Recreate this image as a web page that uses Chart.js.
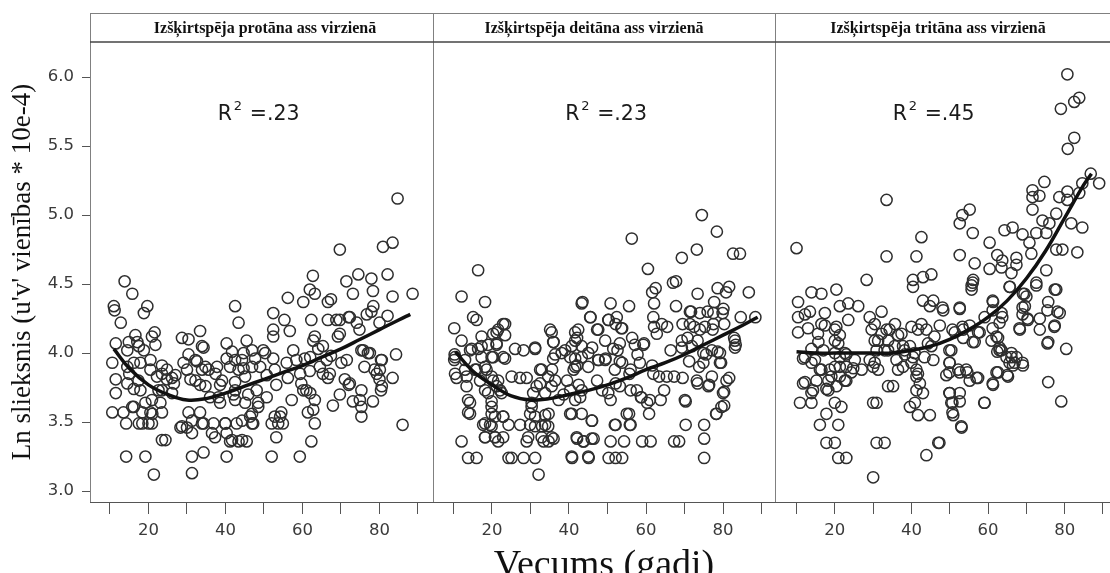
<!DOCTYPE html>
<html><head><meta charset="utf-8">
<script src="https://cdn.jsdelivr.net/npm/chart.js@4.4.1/dist/chart.umd.min.js"></script>
<style>
html,body{margin:0;padding:0;background:#fff;width:1110px;height:573px;overflow:hidden;}
canvas{position:absolute;top:13px;}
</style></head><body>
<canvas id="c1" width="433" height="560" style="left:0px"></canvas>
<canvas id="c2" width="342" height="560" style="left:433px"></canvas>
<canvas id="c3" width="335" height="560" style="left:775px"></canvas>
<script>
const panelTitles = ['Izšķirtspēja protāna ass virzienā','Izšķirtspēja deitāna ass virzienā','Izšķirtspēja tritāna ass virzienā'];
const r2Labels = ['.23','.23','.45'];
const yAxisTitle = "Ln slieksnis (u'v' vienības * 10e-4)";
const xAxisTitle = 'Vecums (gadi)';
const xTickValues = [10,20,30,40,50,60,70,80,90];
const xTickLabels = {20:'20',40:'40',60:'60',80:'80'};
const yTickValues = [3.0,3.5,4.0,4.5,5.0,5.5,6.0];

const protanPoints = [
[11.0,4.34],[11.2,4.31],[13.8,4.52],[15.8,4.43],[12.8,4.22],[11.5,4.07],[10.6,3.93],[11.5,3.81],[11.5,3.71],[10.6,3.57],
[13.5,3.57],[14.2,3.49],[14.2,3.25],[14.5,4.02],[14.5,3.90],[14.5,3.78],[17.1,4.08],[16.6,4.13],[16.2,3.93],[16.2,3.74],
[16.2,3.61],[17.5,4.05],[18.8,4.29],[19.7,4.34],[18.8,4.02],[17.9,3.93],[17.9,3.73],[18.4,3.57],[18.4,3.49],[19.2,3.25],
[21.4,3.12],[20.9,3.49],[20.5,3.57],[20.9,3.66],[20.5,3.88],[20.5,3.95],[20.9,4.12],[21.6,4.15],[21.8,4.06],[22.2,3.83],
[22.6,3.73],[23.1,3.64],[23.5,3.91],[23.5,3.57],[23.5,3.37],[24.4,3.37],[24.8,3.81],[24.8,3.88],[26.6,3.78],[27.0,3.84],
[28.3,3.46],[28.7,4.11],[30.4,4.10],[30.0,3.88],[30.4,3.99],[30.9,3.81],[30.4,3.57],[30.0,3.46],[31.3,3.42],[31.3,3.25],
[31.3,3.13],[32.6,3.94],[33.4,4.16],[34.3,4.04],[33.9,3.88],[33.4,3.77],[33.4,3.57],[34.3,3.49],[34.3,3.28],[35.6,3.88],
[36.0,3.68],[36.9,3.49],[37.3,3.39],[37.8,3.90],[38.6,3.64],[38.6,3.77],[39.9,3.49],[40.3,4.07],[40.3,3.96],[41.2,3.90],
[40.3,3.42],[40.3,3.25],[41.2,3.36],[42.1,3.70],[42.5,4.34],[43.4,4.22],[42.5,3.95],[43.4,3.88],[42.5,3.79],[42.9,3.49],
[43.4,3.36],[44.7,4.00],[44.7,3.89],[45.5,4.09],[45.5,3.36],[45.1,3.64],[46.4,3.54],[47.2,3.49],[47.7,3.96],[48.1,3.73],
[48.5,3.61],[49.8,4.02],[50.7,3.68],[50.7,3.84],[52.0,3.49],[52.0,3.25],[52.4,4.29],[52.4,4.17],[52.4,4.12],[52.4,3.96],
[52.8,3.88],[53.2,3.77],[52.8,3.54],[53.2,3.39],[53.7,3.49],[54.5,3.57],[54.9,3.49],[55.3,4.24],[56.2,4.40],[55.9,3.93],
[56.2,3.82],[56.7,4.16],[57.2,3.66],[57.6,4.02],[58.4,3.95],[59.3,3.25],[59.7,3.78],[60.2,4.37],[60.6,3.96],[61.9,4.46],
[61.9,3.87],[61.0,3.73],[61.4,3.57],[62.3,3.36],[62.3,4.24],[62.7,4.56],[63.2,4.43],[63.2,4.12],[63.2,3.66],[63.2,3.49],
[64.5,3.90],[65.3,4.05],[65.3,3.85],[66.6,4.24],[66.6,4.37],[67.4,4.39],[66.6,3.82],[67.4,3.98],[67.9,3.62],[68.8,4.24],
[69.2,4.12],[69.7,3.70],[70.1,3.93],[71.0,3.81],[71.4,4.52],[72.0,4.26],[72.0,3.77],[73.1,4.43],[73.1,3.65],[74.5,4.57],
[74.8,4.17],[75.3,3.73],[75.3,3.54],[75.3,3.61],[75.3,4.02],[76.1,3.90],[77.0,4.00],[77.9,4.54],[78.3,4.45],[77.9,4.30],
[78.3,3.65],[78.7,3.88],[80.0,4.22],[80.4,3.95],[80.0,3.81],[80.4,3.73],[82.1,4.57],[82.1,4.27],[83.4,4.41],[83.4,3.82],
[84.3,3.99],[86.0,3.48],[88.6,4.43],[84.7,5.12],[69.7,4.75],[80.9,4.77],[83.4,4.80],
[14.9,4.08],[32.2,3.95],[34.8,3.90],[37.4,3.85],[29.1,3.93],[26.1,3.82],[23.5,3.85],[17.4,3.80],[15.0,3.85],[23.5,3.73],
[26.1,3.71],[32.2,3.80],[34.8,3.76],[39.1,3.80],[42.5,3.73],[45.1,3.83],[44.3,3.95],[46.9,3.90],[46.9,4.02],[41.7,4.01],
[33.9,4.05],[31.3,3.51],[28.7,3.47],[33.9,3.49],[40.0,3.49],[44.3,3.51],[46.9,3.49],[46.9,3.56],[41.7,3.37],[44.3,3.37],
[36.5,3.42],[42.5,3.66],[45.9,3.70],[48.5,3.64],[38.2,3.68],[19.2,3.64],[15.8,3.61],[21.0,3.56],[17.5,3.49],[20.0,3.49],
[50.3,4.00],[49.0,3.90],[59.4,3.85],[62.0,3.97],[62.8,4.09],[64.1,4.03],[66.3,3.95],[67.1,3.85],[69.7,4.24],[69.7,4.14],
[71.5,3.95],[72.3,4.26],[74.1,4.22],[76.7,4.28],[78.4,4.34],[75.8,4.02],[77.5,4.00],[80.1,3.88],[80.6,3.95],[72.3,3.78],
[74.9,3.66],[62.0,3.71],[62.8,3.59],[60.2,3.73],[54.2,3.54],[80.6,3.76],[79.3,3.85]
];

const deutanPoints = [
[12.1,4.41],[18.2,4.37],[16.4,4.60],[10.2,4.18],[12.1,4.09],[10.3,3.99],[10.2,3.95],[10.8,3.82],[13.0,3.88],[13.4,3.76],
[14.3,3.64],[14.3,3.56],[12.1,3.36],[13.8,3.24],[16.0,3.24],[15.1,4.26],[16.0,4.24],[14.7,4.03],[16.4,4.03],[16.0,3.88],
[16.9,3.80],[18.2,3.73],[17.7,3.48],[18.2,3.39],[18.6,3.88],[19.0,4.06],[19.9,3.97],[20.3,4.14],[21.2,4.06],[21.6,4.17],
[22.9,4.21],[20.3,3.80],[19.9,3.65],[19.9,3.56],[19.5,3.48],[20.8,3.39],[21.6,3.36],[21.2,3.76],[22.1,3.73],[23.4,3.96],
[22.9,3.54],[24.3,3.48],[24.3,3.24],[25.1,3.24],[28.2,3.24],[31.2,3.24],[25.1,3.83],[27.3,3.82],[29.0,3.82],[26.0,4.03],
[28.2,4.02],[27.3,3.48],[29.0,3.36],[29.9,3.48],[29.9,3.56],[30.3,3.64],[31.2,4.04],[32.1,3.12],[31.6,3.76],[32.5,3.78],
[32.5,3.88],[33.0,3.47],[33.4,3.36],[34.7,3.36],[36.0,3.38],[33.8,3.48],[34.7,3.56],[35.1,4.17],[36.0,4.08],[36.4,3.99],
[35.6,3.88],[36.4,3.80],[37.3,3.66],[38.6,3.70],[39.0,4.02],[39.5,3.80],[40.3,3.56],[40.8,3.24],[41.6,4.15],[42.1,4.11],
[41.6,3.96],[42.1,3.91],[41.2,3.88],[42.5,3.77],[42.9,3.68],[42.1,3.38],[43.8,3.36],[43.5,4.37],[45.1,3.24],[45.6,4.26],
[46.0,4.04],[46.0,3.51],[46.4,3.38],[47.3,4.17],[47.7,3.95],[47.3,3.80],[48.6,3.73],[49.5,3.96],[50.3,4.24],[50.8,4.36],
[50.8,3.66],[50.8,3.36],[50.3,3.24],[52.1,3.24],[53.8,3.24],[52.1,4.21],[52.6,4.02],[52.1,3.78],[52.1,3.48],[53.8,4.18],
[53.8,3.93],[54.3,3.36],[55.6,4.34],[55.6,3.56],[56.0,3.48],[56.4,4.11],[56.0,3.88],[56.0,3.73],[57.8,3.99],[58.7,3.68],
[59.0,3.36],[61.2,3.36],[59.5,4.07],[60.3,3.64],[60.8,3.56],[61.6,4.44],[62.5,4.47],[62.1,4.36],[62.1,4.19],[61.6,3.91],
[63.4,3.83],[63.8,3.66],[64.7,3.73],[65.5,4.19],[66.4,4.02],[67.3,3.36],[68.6,3.36],[67.8,4.52],[67.8,4.34],[67.3,3.83],
[69.5,4.21],[69.5,3.82],[70.3,3.65],[70.3,3.48],[70.8,4.11],[71.2,3.94],[71.7,4.30],[72.5,4.19],[73.4,4.09],[73.4,4.43],
[73.8,3.90],[73.4,3.78],[75.1,3.48],[75.1,3.38],[75.1,3.24],[75.6,3.99],[76.0,4.30],[76.4,3.77],[77.3,4.17],[77.7,4.37],
[78.2,3.56],[78.6,4.47],[78.6,4.01],[79.5,3.93],[79.9,4.29],[80.3,4.21],[80.3,3.62],[80.3,3.72],[80.8,4.44],[81.6,4.48],
[81.6,3.82],[82.9,4.11],[83.3,4.06],[84.6,4.26],[86.7,4.44],[88.4,4.26],
[74.5,5.00],[78.4,4.88],[56.3,4.83],[73.2,4.75],[69.3,4.69],[82.6,4.72],[84.4,4.72],[60.5,4.61],[67.0,4.51],
[50.2,4.24],[52.4,4.26],[53.6,4.18],[49.4,4.09],[51.5,4.03],[53.2,4.07],[57.1,4.06],[59.3,4.06],[49.4,3.95],[53.2,3.94],
[58.4,3.93],[51.9,3.88],[55.7,3.85],[61.9,3.85],[65.4,3.83],[50.2,3.71],[53.2,3.76],[57.6,3.73],[58.8,3.68],[61.0,3.66],
[61.9,4.26],[62.8,4.14],[64.1,4.21],[71.4,4.30],[71.4,4.21],[74.0,4.29],[74.0,4.17],[75.3,4.19],[77.5,4.29],[77.5,4.21],
[80.1,4.32],[69.3,4.09],[71.9,4.05],[69.3,4.04],[74.9,4.00],[77.1,4.02],[79.2,4.00],[74.9,3.93],[79.2,3.93],[73.2,3.80],
[76.2,3.76],[77.1,3.83],[80.9,3.80],[80.0,3.71],[79.6,3.61],[78.3,3.56],[70.1,3.66],[83.1,4.09],[83.1,4.04],[55.0,3.56],
[55.8,3.48],[51.9,3.48],
[23.4,4.21],[21.2,4.15],[23.4,4.13],[17.3,4.12],[21.2,4.07],[14.3,4.02],[17.3,4.05],[10.4,3.97],[13.0,3.95],[17.3,3.97],
[20.3,3.97],[22.9,3.97],[31.2,4.03],[35.5,4.15],[35.9,4.08],[35.9,3.96],[38.1,4.00],[43.3,4.36],[45.5,4.26],[47.6,4.17],
[42.4,4.17],[41.6,4.09],[40.7,4.05],[43.3,4.05],[40.3,3.97],[43.3,3.97],[45.0,4.00],[41.6,3.90],[45.0,3.90],[47.6,3.95],
[10.4,3.85],[13.4,3.83],[15.6,3.88],[18.2,3.90],[19.9,3.83],[21.6,3.80],[32.9,3.88],[34.6,3.83],[35.5,3.76],[33.8,3.71],
[30.7,3.71],[30.3,3.61],[31.2,3.54],[33.8,3.55],[31.2,3.47],[34.6,3.47],[32.9,3.39],[29.4,3.39],[35.5,3.39],[19.0,3.71],
[22.5,3.71],[19.9,3.61],[20.8,3.54],[22.9,3.54],[18.2,3.49],[19.9,3.47],[18.2,3.39],[20.8,3.39],[22.9,3.39],[13.8,3.66],
[13.8,3.57],[40.3,3.73],[41.6,3.66],[43.3,3.56],[40.7,3.56],[43.3,3.73],[45.9,3.51],[42.0,3.39],[43.7,3.36],[45.9,3.38],
[40.7,3.25],[45.0,3.25]
];

const tritanPoints = [
[28.3,4.53],[40.4,4.53],[43.0,4.55],[45.2,4.57],[40.4,4.48],[13.9,4.44],[16.5,4.43],[20.4,4.46],[10.4,4.37],[10.4,4.26],
[10.4,4.15],[12.2,4.28],[13.5,4.30],[13.0,4.18],[11.7,3.96],[13.9,4.03],[13.9,3.93],[11.7,3.78],[13.9,3.71],[10.9,3.64],
[13.9,3.64],[16.1,3.48],[17.4,4.29],[16.5,4.21],[15.7,4.08],[17.0,4.02],[16.1,3.88],[15.2,3.80],[17.8,3.74],[18.7,3.88],
[19.1,3.83],[17.8,3.56],[17.8,3.35],[20.0,3.35],[20.0,3.64],[20.4,3.76],[20.0,4.17],[21.3,4.34],[21.3,4.13],[20.9,4.07],
[21.3,3.97],[21.3,3.90],[20.9,3.48],[21.7,3.61],[20.9,3.24],[23.0,3.24],[23.5,4.36],[23.5,4.24],[23.0,3.99],[23.0,3.90],
[23.0,3.80],[26.1,4.34],[25.2,3.95],[24.8,3.89],[27.0,3.88],[29.1,4.26],[30.4,4.21],[29.6,4.17],[29.1,3.95],[31.3,4.09],
[30.9,4.02],[31.3,3.88],[30.0,3.90],[30.0,3.64],[30.9,3.64],[30.9,3.35],[33.0,3.35],[30.0,3.10],[32.2,4.30],[33.5,4.17],
[33.9,4.02],[33.9,3.76],[35.2,3.76],[35.7,4.21],[36.5,4.13],[36.1,3.95],[36.5,3.88],[37.8,4.05],[38.3,3.99],[37.8,3.90],
[39.6,3.61],[40.9,3.64],[41.7,3.55],[44.8,3.55],[43.9,3.26],[47.0,3.35],[39.6,4.05],[40.4,3.97],[41.7,4.17],[42.6,4.21],
[41.3,3.88],[41.3,3.83],[42.2,3.78],[43.0,3.71],[43.0,4.38],[44.8,4.34],[45.7,4.38],[43.9,4.17],[44.3,4.07],[45.7,3.95],
[47.4,4.20],[48.3,4.31],[50.4,4.02],[50.0,3.93],[49.1,3.84],[50.0,3.71],[50.4,3.64],[50.9,3.55],[52.6,3.71],[52.6,3.65],
[53.0,3.47],[51.3,4.15],[52.6,4.32],[53.5,4.17],[53.5,4.11],[52.2,3.88],[54.3,3.88],[55.2,3.80],[55.2,4.20],[55.7,4.49],
[56.1,4.53],[56.5,4.08],[57.4,3.82],[57.4,4.15],[59.1,3.64],[59.1,4.26],[60.9,4.09],[61.3,3.77],[61.3,4.37],[62.6,4.11],
[62.6,3.86],[63.5,4.29],[63.0,4.02],[65.2,3.83],[65.7,4.48],[66.1,4.00],[66.5,3.91],[67.4,3.97],[69.1,3.91],[68.3,4.17],
[69.6,4.34],[69.1,4.43],[70.4,4.24],[72.6,4.49],[73.5,4.17],[73.5,4.25],[75.7,4.08],[75.7,3.79],[75.7,4.37],[77.4,4.46],
[77.4,4.20],[78.7,4.29],[80.4,4.03],[79.1,3.65],
[80.7,6.02],[79.0,5.77],[82.5,5.82],[83.8,5.85],[82.5,5.56],[80.8,5.48],[86.8,5.30],[89.0,5.23],[84.6,5.23],[74.7,5.24],
[71.6,5.18],[73.4,5.14],[71.6,5.13],[78.6,5.13],[80.7,5.17],[80.7,5.11],[83.8,5.16],[71.6,5.04],[55.2,5.04],[53.3,5.00],
[52.6,4.94],[56.0,4.87],[64.3,4.89],[66.4,4.91],[69.0,4.86],[70.8,4.80],[72.6,4.87],[74.2,4.96],[76.0,4.94],[77.8,5.01],
[75.2,4.87],[81.7,4.94],[84.6,4.91],[60.4,4.80],[52.6,4.71],[56.5,4.65],[62.4,4.71],[63.7,4.67],[60.4,4.61],[63.5,4.62],
[67.4,4.69],[67.4,4.64],[66.1,4.58],[71.3,4.72],[75.2,4.60],[77.8,4.75],[79.4,4.75],[83.3,4.73],[56.0,4.51],[55.7,4.46],
[65.6,4.48],[69.5,4.43],[70.0,4.41],[72.6,4.51],[77.8,4.46],[61.2,4.38],[52.6,4.33],[48.1,4.33],[61.2,4.31],[63.7,4.26],
[63.0,4.22],[61.2,4.18],[69.0,4.33],[69.0,4.28],[75.5,4.31],[78.1,4.30],[70.3,4.25],[68.2,4.18],[77.3,4.19],[75.5,4.07],
[50.7,4.17],[53.3,4.19],[56.0,4.08],[57.8,4.15],[49.9,4.02],[49.9,3.93],[49.9,3.86],[52.6,3.86],[54.6,3.86],[57.0,3.82],
[49.9,3.71],[50.7,3.64],[50.7,3.57],[53.1,3.46],[59.0,3.64],[61.2,3.78],[62.2,3.86],[65.0,3.84],[62.4,4.01],[63.5,4.02],
[64.8,3.97],[66.1,3.97],[66.9,3.93],[69.0,3.93],[65.6,3.93],[62.2,4.12],[63.0,4.04],[47.3,3.35],
[33.5,5.11],[33.5,4.70],[41.3,4.70],[42.6,4.84],[10.0,4.76],
[15.6,4.14],[17.4,4.20],[20.4,4.19],[20.0,4.09],[32.2,4.14],[34.3,4.17],[37.4,4.14],[30.4,4.09],[33.9,4.09],[40.0,4.19],
[46.0,4.12],[45.2,4.05],[12.2,3.97],[14.8,3.95],[20.0,4.00],[22.6,4.00],[33.0,4.02],[35.6,4.05],[38.2,4.02],[40.8,4.00],
[43.4,3.97],[16.5,3.88],[20.0,3.90],[18.3,3.80],[21.3,3.83],[24.3,3.86],[30.4,3.93],[40.0,3.93],[41.7,3.85],[12.2,3.79],
[14.3,3.73],[18.3,3.73],[22.6,3.80],[41.3,3.73]
];

const protanFitAge = [11,15,20,25,30,35,40,45,50,55,60,65,70,75,80,85,88];
const protanFit    = [4.03,3.89,3.77,3.70,3.66,3.67,3.71,3.76,3.81,3.86,3.91,3.97,4.03,4.10,4.17,4.24,4.28];
const deutanFitAge = [10.5,15,20,25,30,35,40,45,50,55,60,65,70,75,80,85,89];
const deutanFit    = [4.01,3.87,3.77,3.69,3.66,3.67,3.70,3.73,3.77,3.82,3.88,3.93,3.99,4.06,4.13,4.20,4.26];
const tritanFitAge = [10,15,20,25,30,35,40,45,50,55,60,65,70,75,80,85,87];
const tritanFit    = [4.01,4.00,4.00,4.00,4.00,4.00,4.02,4.05,4.10,4.17,4.26,4.38,4.54,4.74,4.98,5.22,5.30];

const framePlugin = {
  id: 'panelFrame',
  afterDraw(chart, args, o) {
    const ctx = chart.ctx, a = chart.chartArea;
    ctx.save();
    ctx.strokeStyle = '#808080'; ctx.lineWidth = 1;
    ctx.beginPath(); ctx.moveTo(a.left, 0.5); ctx.lineTo(chart.width, 0.5); ctx.stroke();
    ctx.beginPath(); ctx.moveTo(a.left + 0.5, 0); ctx.lineTo(a.left + 0.5, a.bottom); ctx.stroke();
    ctx.strokeStyle = '#444'; ctx.lineWidth = 1.5;
    ctx.beginPath(); ctx.moveTo(a.left, a.top); ctx.lineTo(chart.width, a.top); ctx.stroke();
    ctx.fillStyle = '#111';
    ctx.font = 'bold 16px "Liberation Serif"';
    ctx.textAlign = 'center'; ctx.textBaseline = 'middle';
    ctx.fillText(o.title, o.headerCx, 16);
    const x0 = chart.scales.x.getPixelForValue(o.r2At[0]);
    const yb = chart.scales.y.getPixelForValue(o.r2At[1]);
    ctx.textAlign = 'left'; ctx.textBaseline = 'alphabetic'; ctx.fillStyle = '#1a1a1a';
    ctx.font = '20.5px "DejaVu Sans"'; ctx.fillText('R', x0, yb);
    ctx.font = '13px "DejaVu Sans"'; ctx.fillText('2', x0 + 16, yb - 9.5);
    ctx.font = '20.5px "DejaVu Sans"'; ctx.fillText('=' + o.r2, x0 + 32, yb);
    ctx.restore();
  }
};

const tickFont = {family: '"DejaVu Sans"', size: 16.5};
function makeChart(id, idx, pts, fitX, fitY, xMin, xMax, showY, headerCx, r2At, showXTitle) {
  const ctx = document.getElementById(id);
  return new Chart(ctx, {
    type: 'scatter',
    data: {
      datasets: [
        { data: fitX.map((x, i) => ({x, y: fitY[i]})), showLine: true, borderColor: '#111', borderWidth: 3.5,
          pointRadius: 0, tension: 0.4, fill: false, order: 0 },
        { data: pts.map(p => ({x: p[0], y: p[1]})), pointRadius: 5.6, pointBorderWidth: 1.5,
          borderColor: '#2e2e2e', backgroundColor: 'rgba(0,0,0,0)', pointStyle: 'circle', showLine: false, order: 1 }
      ]
    },
    options: {
      responsive: false, animation: false, devicePixelRatio: 1,
      layout: { padding: {top: 29, left: 0, right: 0, bottom: 0}, autoPadding: false },
      plugins: { legend: {display: false}, tooltip: {enabled: false},
        panelFrame: { title: panelTitles[idx], headerCx, r2: r2Labels[idx], r2At } },
      scales: {
        x: {
          type: 'linear', min: xMin, max: xMax,
          afterBuildTicks: s => { s.ticks = xTickValues.map(v => ({value: v})); },
          afterFit: s => { s.height = 71; },
          ticks: { autoSkip: false, maxRotation: 0, padding: 7, color: '#3a3a3a', font: tickFont,
            callback: v => xTickLabels[v] || '' },
          grid: { drawOnChartArea: false, drawTicks: true, tickLength: 12, color: '#555', lineWidth: 1 },
          border: { display: true, color: '#555', width: 1 },
          title: { display: showXTitle, text: xAxisTitle, color: '#111',
            font: {family: '"Liberation Serif"', size: 38, lineHeight: 0.37}, padding: 0 }
        },
        y: {
          type: 'linear', min: 2.921, max: 6.254, display: showY,
          afterBuildTicks: s => { s.ticks = yTickValues.map(v => ({value: v})); },
          afterFit: s => { if (showY) s.width = 90; },
          ticks: { padding: 8, color: '#3a3a3a', font: tickFont, callback: v => v.toFixed(1) },
          grid: { drawOnChartArea: false, drawTicks: true, tickLength: 8, color: '#555' },
          border: { display: true, color: '#555', width: 1 },
          title: { display: showY, text: yAxisTitle, color: '#111',
            font: {family: '"Liberation Serif"', size: 27}, padding: {top: 7, bottom: 0} }
        }
      }
    },
    plugins: [framePlugin]
  });
}

makeChart('c1', 0, protanPoints, protanFitAge, protanFit, 4.81, 93.9, true, 265, [38.0, 5.69], false);
makeChart('c2', 1, deutanPoints, deutanFitAge, deutanFit, 4.68, 93.5, false, 161, [39.0, 5.69], true);
makeChart('c3', 2, tritanPoints, tritanFitAge, tritanFit, 4.38, 91.6, false, 163, [35.1, 5.69], false);
</script>
</body></html>
